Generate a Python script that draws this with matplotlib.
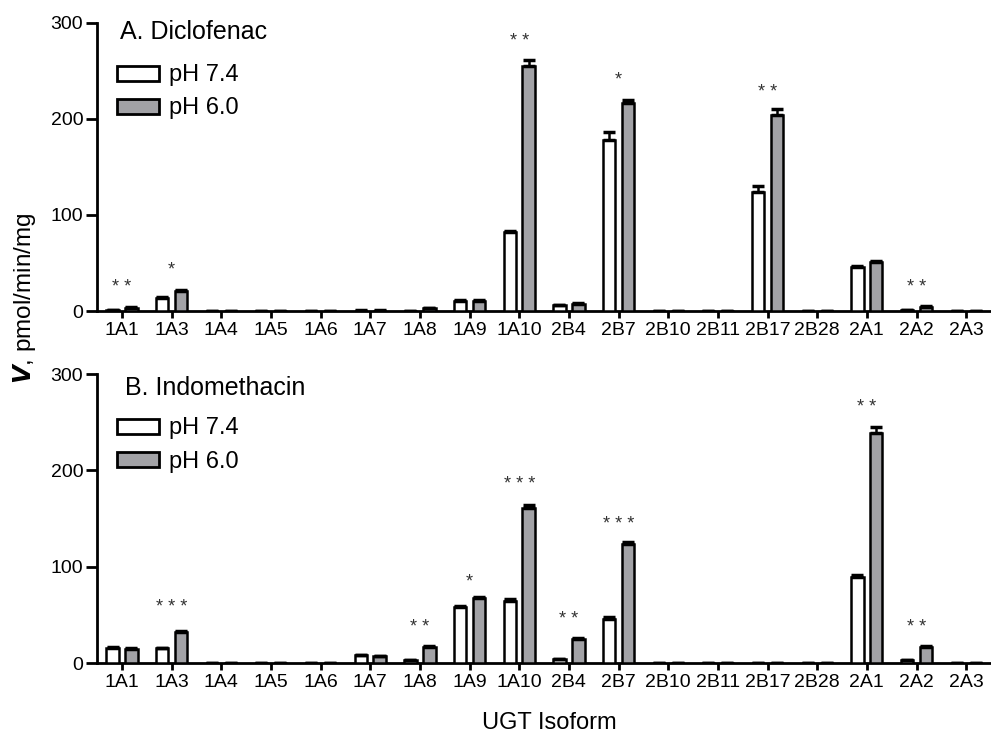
import matplotlib
matplotlib.use("Agg")
import matplotlib.pyplot as plt
import numpy as np
from matplotlib.patches import Patch

# ---- data ----
isoforms = ["1A1", "1A3", "1A4", "1A5", "1A6", "1A7", "1A8", "1A9", "1A10",
            "2B4", "2B7", "2B10", "2B11", "2B17", "2B28", "2A1", "2A2", "2A3"]

# A. Diclofenac
dic_74 = [1.0, 13.8, 0, 0, 0, 0.5, 0, 10.4, 82.6, 5.9, 177.8, 0, 0, 124.0, 0, 45.5, 1.0, 0]
dic_74_err = [0.3, 0.8, 0, 0, 0, 0.2, 0, 1.5, 0.5, 0.8, 9.0, 0, 0, 6.0, 0, 1.0, 0.2, 0]
dic_60 = [3.5, 20.8, 0, 0, 0, 0.5, 3.0, 10.0, 255.5, 7.6, 216.3, 0, 0, 203.8, 0, 51.0, 4.5, 0]
dic_60_err = [0.5, 1.0, 0, 0, 0, 0.2, 0.5, 1.0, 6.0, 1.0, 3.5, 0, 0, 6.5, 0, 1.2, 0.4, 0]
dic_sig = {"1A1": "**", "1A3": "*", "1A10": "**", "2B7": "*", "2B17": "**", "2A2": "**"}
dic_sig_y = {"1A1": 25, "1A3": 43, "1A10": 281, "2B7": 240, "2B17": 228, "2A2": 24}

# B. Indomethacin
ind_74 = [15.9, 15.2, 0, 0, 0, 8.0, 3.0, 57.8, 64.7, 4.0, 46.0, 0, 0, 0, 0, 89.6, 3.0, 0]
ind_74_err = [0.5, 0.8, 0, 0, 0, 0.5, 0.5, 1.0, 1.5, 0.5, 2.0, 0, 0, 0, 0, 1.5, 0.5, 0]
ind_60 = [15.0, 32.5, 0, 0, 0, 7.0, 17.0, 67.5, 161.3, 25.2, 123.9, 0, 0, 0, 0, 238.5, 16.3, 0]
ind_60_err = [0.5, 0.8, 0, 0, 0, 0.5, 0.8, 1.0, 2.5, 1.0, 2.0, 0, 0, 0, 0, 7.0, 1.0, 0]
ind_sig = {"1A3": "***", "1A8": "**", "1A9": "*", "1A10": "***", "2B4": "**",
           "2B7": "***", "2A1": "**", "2A2": "**"}
ind_sig_y = {"1A3": 58, "1A8": 37, "1A9": 84, "1A10": 185, "2B4": 45,
             "2B7": 144, "2A1": 265, "2A2": 37}

gray = "#a2a2a6"
x = np.arange(len(isoforms))
bw = 0.25
off = 0.19

plt.rcParams["font.family"] = ["Liberation Sans", "DejaVu Sans"]

fig = plt.figure(figsize=(9.91, 7.37), dpi=100)
ax1 = fig.add_axes([0.098, 0.578, 0.902, 0.391])
ax2 = fig.add_axes([0.098, 0.1004, 0.902, 0.392])


def draw_panel(ax, title, v74, e74, v60, e60, sig, sig_y, title_pos, leg_y):
    ax.bar(x - off, v74, bw, color="white", edgecolor="black", linewidth=1.8, zorder=3)
    ax.bar(x + off, v60, bw, color=gray, edgecolor="black", linewidth=1.8, zorder=3)
    ax.errorbar(x - off, v74, yerr=[np.zeros(len(x)), e74], fmt="none",
                ecolor="black", elinewidth=1.8, capsize=4, capthick=2.5, zorder=4)
    ax.errorbar(x + off, v60, yerr=[np.zeros(len(x)), e60], fmt="none",
                ecolor="black", elinewidth=1.8, capsize=4, capthick=2.5, zorder=4)
    for k, s in sig.items():
        i = isoforms.index(k)
        ax.text(i, sig_y[k], " ".join(s), ha="center", va="center",
                fontsize=13, color="#333333")
    ax.set_xlim(-0.5, len(isoforms) - 0.5)
    ax.set_ylim(0, 300)
    ax.set_yticks([0, 100, 200, 300])
    ax.set_xticks(x)
    ax.set_xticklabels(isoforms, fontsize=14)
    ax.tick_params(axis="y", labelsize=14, length=8, width=2, pad=2)
    ax.tick_params(axis="x", length=5, width=2, pad=3)
    for sp in ["top", "right"]:
        ax.spines[sp].set_visible(False)
    for sp in ["left", "bottom"]:
        ax.spines[sp].set_linewidth(2)
    ax.text(title_pos[0], title_pos[1], title, transform=ax.transAxes, fontsize=18,
            ha="left", va="baseline")
    handles = [Patch(facecolor="white", edgecolor="black", linewidth=2, label="pH 7.4"),
               Patch(facecolor=gray, edgecolor="black", linewidth=2, label="pH 6.0")]
    ax.legend(handles=handles, loc="upper left", bbox_to_anchor=(0.0225, leg_y),
              frameon=False, fontsize=17, handlelength=1.75, handleheight=0.6,
              handletextpad=0.45, labelspacing=0.47, borderaxespad=0,
              borderpad=0)


draw_panel(ax1, "A. Diclofenac", dic_74, dic_74_err, dic_60, dic_60_err,
           dic_sig, dic_sig_y, (0.026, 0.944), 0.856)
draw_panel(ax2, "B. Indomethacin", ind_74, ind_74_err, ind_60, ind_60_err,
           ind_sig, ind_sig_y, (0.031, 0.927), 0.85)

fig.text(0.025, 0.596, r"$\mathbfit{V}$, pmol/min/mg", rotation=90, fontsize=17.5,
         ha="center", va="center")
fig.text(0.554, 0.004, "UGT Isoform", fontsize=17, ha="center", va="bottom")

fig.savefig("out.png", dpi=100)
